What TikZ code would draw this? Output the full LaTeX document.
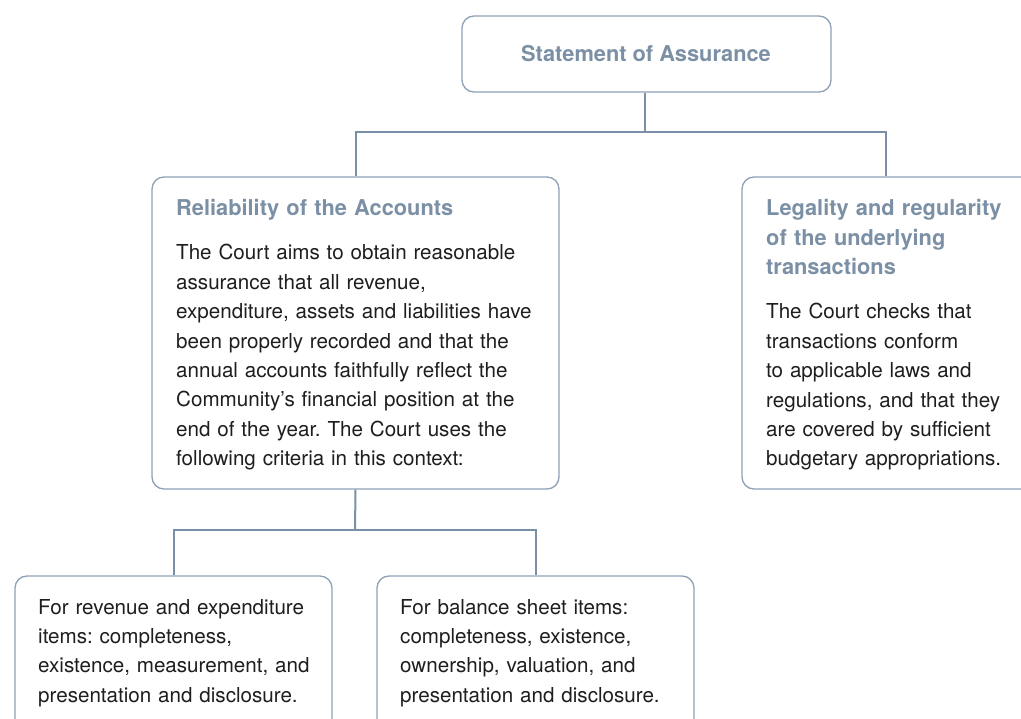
\documentclass[tikz,border=0pt]{standalone}
\usepackage{fontspec}
\setmainfont{TeX Gyre Heros}
\frenchspacing
\begin{document}
\definecolor{linkblue}{HTML}{7A90A8}
\definecolor{boxedge}{HTML}{8EA1B7}
\definecolor{headblue}{HTML}{7B8FA5}
\definecolor{bodyink}{HTML}{1E1E1E}
\begin{tikzpicture}[x=1pt,y=-1pt,
  card/.style={draw=boxedge,line width=1.3pt,rounded corners=12pt,rectangle,inner sep=0pt,fill=white},
  link/.style={draw=linkblue,line width=2pt},
  head/.style={font=\fontsize{21.8}{29.2}\selectfont\bfseries,text=headblue,inner sep=0pt},
  body/.style={font=\fontsize{20.6}{29.4}\selectfont,text=bodyink,inner sep=0pt,align=left,text width=420pt,anchor=base west},
  headblock/.style={head,align=left,text width=300pt,anchor=base west}]
\useasboundingbox (0,0) rectangle (1021,719);
\clip (0,0) rectangle (1021,719);

% boxes
\node[card,minimum width=369pt,minimum height=76pt] (soa) at (646.5,54) {};
\node[card,minimum width=407pt,minimum height=312pt] (rel) at (355.5,333) {};
\node[card,minimum width=320pt,minimum height=312pt] (leg) at (902,333) {};
\node[card,minimum width=317pt,minimum height=170pt] (rev) at (173.5,661) {};
\node[card,minimum width=317pt,minimum height=170pt] (bal) at (535.5,661) {};

% connectors
\coordinate (upper) at (645,132);
\coordinate (rightdrop) at (886,132);
\coordinate (lower) at (355,530);
\draw[link] (soa.south -| upper) -- (upper);
\draw[link] (rel.north) |- (upper) -- (rightdrop) -- (rightdrop |- leg.north);
\draw[link] (rel.south) -- (lower);
\draw[link] (rev.north) |- (lower) -| (bal.north);

% texts
\node[head,anchor=base] (soatitle) at (646,62) {Statement of Assurance};

\node[headblock] (reltitle) at (176,216) {Reliability of the Accounts};
\node[body] (reltext) at (176,260) {The Court aims to obtain reasonable\\
assurance that all revenue,\\
expenditure, assets and liabilities have\\
been properly recorded and that the\\
annual accounts faithfully reflect the\\
Community’s financial position at the\\
end of the year. The Court uses the\\
following criteria in this context:};

\node[headblock] (legtitle) at (766,216) {Legality and regularity\\of the underlying\\transactions};
\node[body] (legtext) at (766,319) {The Court checks that\\
transactions conform\\
to applicable laws and\\
regulations, and that they\\
are covered by sufficient\\
budgetary appropriations.};

\node[body] (revtext) at (38,614) {For revenue and expenditure\\
items: completeness,\\
existence, measurement, and\\
presentation and disclosure.};

\node[body] (baltext) at (400,614) {For balance sheet items:\\
completeness, existence,\\
ownership, valuation, and\\
presentation and disclosure.};
\end{tikzpicture}
\end{document}
